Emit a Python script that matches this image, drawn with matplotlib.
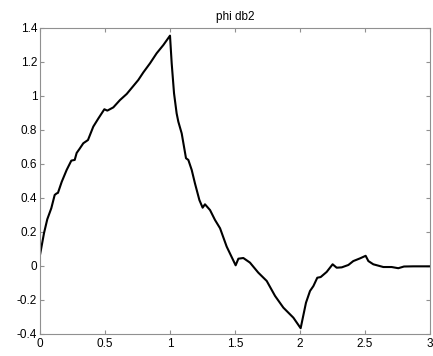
import numpy as np
import matplotlib.pyplot as plt

# phi db2 curve
x = [0.0, 0.031, 0.056, 0.087, 0.113, 0.128, 0.138, 0.167, 0.205, 0.241, 0.267,
     0.282, 0.305, 0.333, 0.369, 0.41, 0.449, 0.495, 0.518, 0.564, 0.615, 0.667,
     0.718, 0.756, 0.795, 0.846, 0.897, 0.949, 1.0,
     1.013, 1.031, 1.051, 1.064, 1.09, 1.123, 1.141, 1.167, 1.192, 1.226, 1.251,
     1.269, 1.308, 1.346, 1.385, 1.436, 1.505, 1.526, 1.564, 1.615, 1.679, 1.744,
     1.808, 1.872, 1.949, 2.005,
     2.046, 2.077, 2.103, 2.133, 2.159, 2.205, 2.251, 2.282, 2.321, 2.372, 2.41,
     2.462, 2.505, 2.526, 2.564, 2.641, 2.705, 2.756, 2.8, 2.872, 3.0]
y = [0.065, 0.194, 0.275, 0.34, 0.418, 0.427, 0.43, 0.495, 0.565, 0.62, 0.624,
     0.665, 0.69, 0.722, 0.741, 0.82, 0.868, 0.922, 0.914, 0.933, 0.976, 1.012,
     1.059, 1.094, 1.139, 1.192, 1.251, 1.3, 1.355,
     1.192, 1.016, 0.898, 0.849, 0.78, 0.634, 0.624, 0.565, 0.486, 0.388, 0.343,
     0.363, 0.329, 0.271, 0.222, 0.114, 0.004, 0.043, 0.047, 0.02, -0.039, -0.088,
     -0.176, -0.245, -0.304, -0.366,
     -0.216, -0.147, -0.118, -0.069, -0.065, -0.035, 0.01, -0.01, -0.008, 0.006, 0.029,
     0.045, 0.06, 0.029, 0.01, -0.006, -0.006, -0.013, -0.003, -0.002, -0.002]

xticks = [0, 0.5, 1, 1.5, 2, 2.5, 3]
yticks = [-0.4, -0.2, 0, 0.2, 0.4, 0.6, 0.8, 1, 1.2, 1.4]
ytick_labels = ["-0.4", "-0.2", "0", "0.2", "0.4", "0.6", "0.8", "1", "1.2", "1.4"]

plt.rcParams['font.family'] = ['Liberation Sans', 'DejaVu Sans']

fig = plt.figure(figsize=(4.33, 3.56), dpi=100)
ax = fig.add_axes([40 / 433, 22 / 356, 390 / 433, 306 / 356])
ax.plot(x, y, color="black", linewidth=1.5)

ax.set_xlim(0, 3)
ax.set_ylim(-0.4, 1.4)
ax.set_xticks(xticks)
ax.set_xticklabels([f"{t:g}" for t in xticks])
ax.set_yticks(yticks)
ax.set_yticklabels(ytick_labels)
ax.tick_params(direction="in", length=3, colors="#909090", labelcolor="black",
               labelsize=8.5, top=True, right=True)
ax.tick_params(axis="y", pad=2)
ax.tick_params(axis="x", pad=3)
for s in ax.spines.values():
    s.set_color("#909090")
    s.set_linewidth(0.8)
ax.set_title("phi db2", fontsize=8.5, pad=6)

fig.savefig("out.png", dpi=100)
